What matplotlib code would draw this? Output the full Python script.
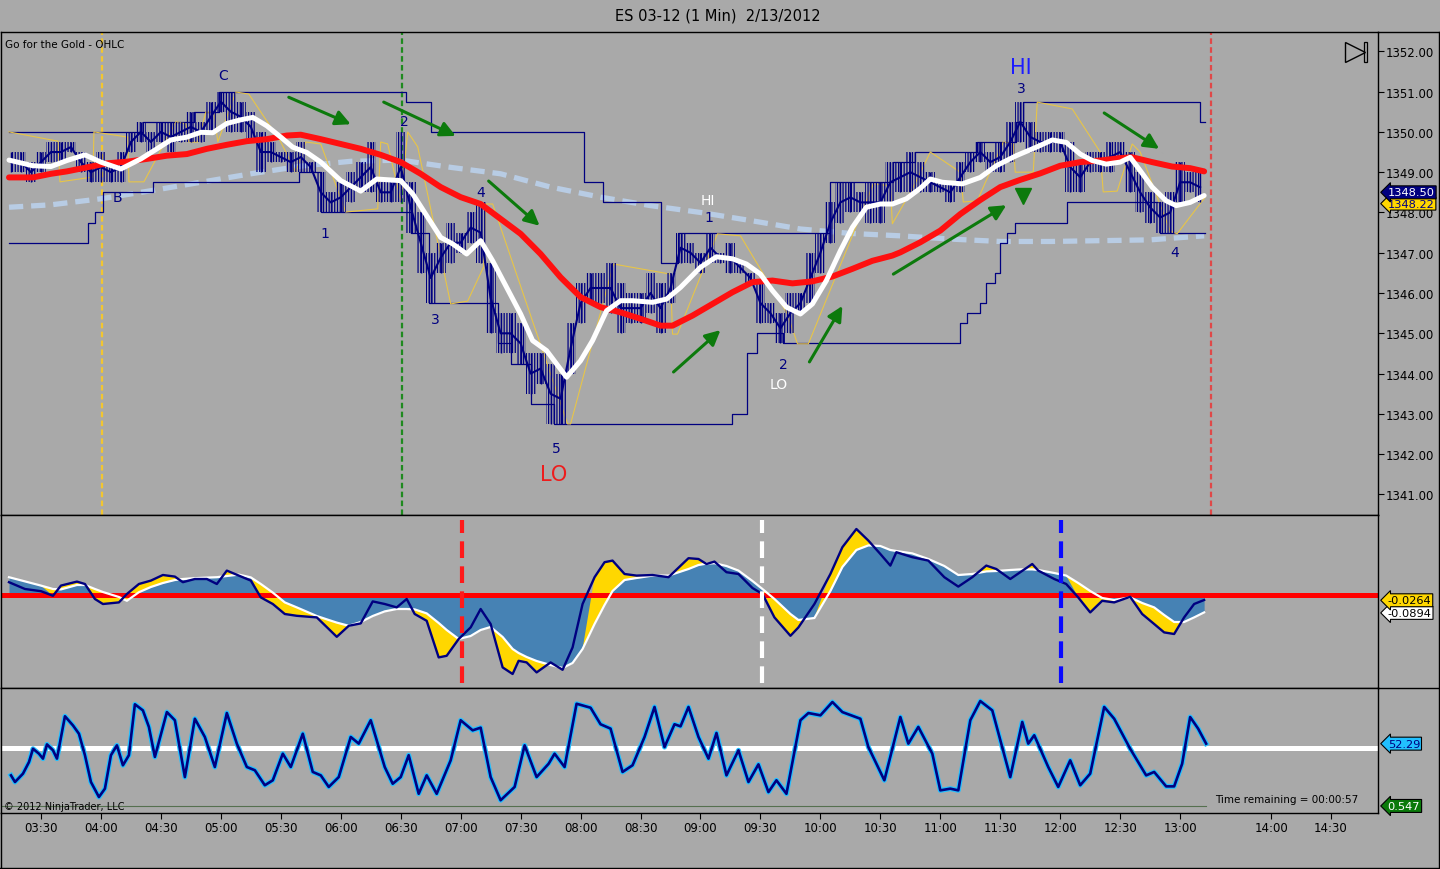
import matplotlib
matplotlib.use('Agg')
import matplotlib.pyplot as plt
from matplotlib.lines import Line2D
from matplotlib.patches import Rectangle
import numpy as np

plt.rcParams['font.family'] = ['DejaVu Sans']
plt.rcParams['hatch.linewidth'] = 0.9

BG = '#a9a9a9'
NAVY = '#000080'

# time axis: minutes after 03:30 (1 bar = 1 minute)
bar_t = list(range(-15, 581, 5))
bar_high = [1349.50, 1349.50, 1349.25, 1349.50, 1349.75, 1349.75, 1349.75, 1349.50, 1349.25, 1349.50,
            1349.25, 1349.50, 1350.00, 1350.25, 1350.00, 1350.25, 1350.25, 1350.25, 1350.50, 1350.25,
            1350.75, 1351.00, 1351.00, 1350.75, 1350.50, 1350.00, 1349.75, 1349.50, 1349.50, 1349.75,
            1349.25, 1349.00, 1348.50, 1348.75, 1349.00, 1349.25, 1349.75, 1348.75, 1348.75, 1350.00,
            1348.75, 1348.00, 1347.00, 1347.25, 1347.75, 1347.50, 1348.00, 1348.25, 1346.75, 1345.50,
            1345.50, 1345.25, 1344.50, 1344.50, 1344.25, 1344.00, 1345.25, 1346.25, 1346.50, 1346.50,
            1346.75, 1346.25, 1346.00, 1346.00, 1346.50, 1346.25, 1346.50, 1347.50, 1347.25, 1347.00,
            1347.50, 1347.00, 1347.25, 1346.75, 1346.50, 1346.25, 1345.75, 1345.50, 1346.00, 1346.00,
            1347.00, 1347.50, 1348.25, 1348.75, 1348.75, 1348.50, 1348.75, 1348.75, 1349.25, 1349.25,
            1349.50, 1349.25, 1349.00, 1348.75, 1348.75, 1349.25, 1349.50, 1349.75, 1349.50, 1349.75,
            1350.25, 1350.75, 1350.25, 1350.00, 1350.00, 1350.00, 1349.75, 1349.25, 1349.50, 1349.50,
            1349.75, 1349.75, 1349.50, 1349.00, 1348.50, 1348.25, 1348.50, 1349.25, 1349.00, 1349.00]
bar_low = [1349.00, 1349.00, 1348.75, 1349.00, 1349.25, 1349.25, 1349.50, 1349.00, 1348.75, 1348.75,
           1348.75, 1348.75, 1349.50, 1349.75, 1349.50, 1349.75, 1349.50, 1349.75, 1349.75, 1349.75,
           1350.00, 1350.50, 1350.00, 1350.00, 1349.75, 1349.00, 1349.25, 1349.25, 1349.00, 1349.00,
           1349.00, 1348.00, 1348.00, 1348.00, 1348.25, 1348.50, 1348.50, 1348.25, 1348.25, 1348.25,
           1347.50, 1346.50, 1345.75, 1346.50, 1346.75, 1347.00, 1347.25, 1346.75, 1345.00, 1344.50,
           1344.50, 1344.25, 1343.50, 1343.75, 1342.75, 1342.75, 1344.00, 1345.25, 1345.75, 1345.75,
           1345.50, 1345.00, 1345.25, 1345.25, 1345.50, 1345.00, 1345.75, 1346.75, 1346.75, 1346.50,
           1346.75, 1346.75, 1346.50, 1346.50, 1346.25, 1345.25, 1345.25, 1344.75, 1345.00, 1345.50,
           1345.75, 1346.50, 1347.25, 1347.75, 1348.00, 1348.00, 1347.75, 1347.75, 1348.25, 1348.50,
           1348.50, 1348.50, 1348.50, 1348.50, 1348.25, 1348.50, 1349.00, 1349.25, 1349.00, 1349.00,
           1349.25, 1349.75, 1349.50, 1349.50, 1349.50, 1349.50, 1348.50, 1348.50, 1349.00, 1349.00,
           1349.00, 1349.25, 1348.50, 1348.00, 1347.75, 1347.50, 1347.50, 1348.25, 1348.50, 1348.25]

fast_t = [-16, -4, 5, 13, 22, 30, 40, 50, 58, 65, 73, 80, 86, 93, 100, 106, 113, 120, 126, 133,
          140, 150, 160, 168, 180, 186, 193, 200, 206, 213, 220, 226, 233, 240, 246, 253, 263, 270, 276, 283,
          290, 296, 306, 313, 320, 330, 338, 346, 353, 360, 366, 373, 380, 386, 393, 400, 406, 413, 420, 426,
          433, 440, 445, 451, 461, 470, 478, 488, 498, 506, 513, 520, 526, 533, 540, 545, 550, 556, 563, 568,
          575, 582]
fast_ma = [1349.30, 1349.16, 1349.14, 1349.29, 1349.43, 1349.25, 1349.08, 1349.33, 1349.58, 1349.80,
           1349.87, 1349.99, 1349.98, 1350.21, 1350.30, 1350.36, 1350.15, 1349.87, 1349.62, 1349.49,
           1349.25, 1348.79, 1348.53, 1348.83, 1348.79, 1348.46, 1347.92, 1347.38, 1347.22, 1346.97,
           1347.30, 1346.80, 1346.14, 1345.48, 1344.82, 1344.57, 1343.91, 1344.32, 1344.82, 1345.56,
           1345.81, 1345.81, 1345.77, 1345.85, 1346.14, 1346.64, 1346.90, 1346.85, 1346.72, 1346.47,
           1346.06, 1345.65, 1345.48, 1345.73, 1346.31, 1347.05, 1347.63, 1348.13, 1348.21, 1348.21,
           1348.34, 1348.60, 1348.83, 1348.75, 1348.71, 1348.87, 1349.16, 1349.41, 1349.62, 1349.80,
           1349.74, 1349.45, 1349.29, 1349.20, 1349.25, 1349.37, 1349.04, 1348.63, 1348.29, 1348.17,
           1348.25, 1348.42]

mid_t = [-16, -4, 5, 13, 23, 33, 43, 53, 63, 73, 83, 93, 103, 113, 123, 130, 140, 150, 160, 170,
         180, 190, 200, 210, 220, 230, 240, 250, 260, 270, 280, 290, 300, 310, 316, 326, 336, 346, 356, 366,
         376, 386, 396, 406, 416, 426, 430, 440, 450, 460, 470, 480, 490, 500, 510, 520, 530, 540, 546, 556,
         566, 575, 582]
mid_ma = [1348.87, 1348.87, 1348.96, 1349.02, 1349.12, 1349.22, 1349.26, 1349.33, 1349.41, 1349.45,
          1349.58, 1349.68, 1349.77, 1349.82, 1349.91, 1349.93, 1349.82, 1349.70, 1349.58, 1349.43,
          1349.25, 1348.96, 1348.63, 1348.38, 1348.21, 1347.84, 1347.47, 1346.97, 1346.39, 1345.90,
          1345.65, 1345.52, 1345.36, 1345.19, 1345.19, 1345.44, 1345.73, 1346.02, 1346.27, 1346.31,
          1346.24, 1346.29, 1346.41, 1346.60, 1346.80, 1346.93, 1347.01, 1347.26, 1347.55, 1347.96,
          1348.31, 1348.63, 1348.81, 1348.97, 1349.16, 1349.25, 1349.29, 1349.35, 1349.37, 1349.25,
          1349.14, 1349.10, 1349.02]

slow_t = [-16, 5, 30, 55, 80, 105, 130, 155, 180, 205, 230, 255, 280, 305, 330, 355, 380, 405, 430,
          455, 480, 505, 530, 555, 582]
slow_ma = [1348.13, 1348.19, 1348.34, 1348.54, 1348.75, 1348.96, 1349.15, 1349.27, 1349.30, 1349.12,
           1348.96, 1348.63, 1348.38, 1348.17, 1348.00, 1347.80, 1347.59, 1347.48, 1347.42, 1347.34,
           1347.28, 1347.28, 1347.30, 1347.32, 1347.42]

upper_t = [-16, 51, 76.5, 89, 182.5, 195, 271.5, 281, 310, 318.5, 395, 426.5, 437.5, 468.5, 488, 491.5,
           580, 582.5]
upper_lvl = [1350.00, 1350.25, 1350.50, 1351.00, 1350.75, 1350.00, 1348.75, 1348.25, 1346.75, 1347.50,
             1348.75, 1349.25, 1349.50, 1349.75, 1350.25, 1350.75, 1350.25, 1350.25]
lower_t = [-16, 23.5, 27, 31, 56, 129, 140, 185, 194, 228.5, 235, 245, 256.5, 346, 353.5, 358.5, 371.5,
           460, 463.5, 470, 473, 477.5, 480, 483.5, 487.5, 513.5, 560, 582.5]
lower_lvl = [1347.25, 1347.75, 1348.00, 1348.50, 1348.75, 1349.00, 1348.00, 1347.50, 1345.75, 1344.75,
             1344.25, 1343.25, 1342.75, 1343.00, 1344.50, 1345.00, 1344.75, 1345.25, 1345.50, 1345.75,
             1346.25, 1346.50, 1347.25, 1347.50, 1347.75, 1348.25, 1347.50, 1347.50]

gold_t = [-16, 8.5, 9.5, 26, 26.5, 43.5, 44, 51.5, 67.5, 72.5, 74, 78.5, 82.5, 86.5, 88.5, 97.5, 104,
          120, 127.5, 132.5, 140, 152.5, 168.5, 170, 173.5, 180, 183.5, 188.5, 205, 213.5, 221.5, 222.5,
          226, 263.5, 265, 286.5, 315, 316, 318.5, 338.5, 350, 373.5, 378.5, 384, 416.5, 425, 426, 436.5,
          445, 460, 461.5, 468.5, 481.5, 486.5, 487.5, 496.5, 498.5, 516, 530, 531.5, 538.5, 546, 550,
          565, 568.5, 582.5]
gold_p = [1350.00, 1349.77, 1348.76, 1348.88, 1350.00, 1349.87, 1348.76, 1348.76, 1350.25, 1350.20,
          1349.75, 1349.75, 1350.49, 1350.49, 1349.75, 1350.99, 1350.94, 1349.75, 1349.00, 1349.75,
          1349.70, 1348.01, 1348.09, 1349.75, 1349.70, 1348.29, 1350.00, 1349.63, 1345.73, 1345.80,
          1346.65, 1348.21, 1348.21, 1342.75, 1342.75, 1346.72, 1346.47, 1344.98, 1344.98, 1347.47,
          1347.42, 1345.48, 1344.74, 1344.74, 1348.71, 1348.66, 1347.72, 1348.63, 1349.50, 1349.00,
          1348.26, 1348.29, 1349.75, 1349.70, 1349.00, 1349.00, 1350.74, 1350.57, 1349.50, 1348.51,
          1348.53, 1349.70, 1349.50, 1347.54, 1347.47, 1348.38]

# trend arrows drawn on the chart
arrow_from_t = [124, 171.5, 224, 316.5, 384.5, 426.5, 532]
arrow_from_p = [1350.86, 1350.74, 1348.78, 1344.04, 1344.29, 1346.47, 1350.47]
arrow_to_t = [155, 207.5, 249.5, 340, 401, 483, 559.5]
arrow_to_p = [1350.19, 1349.90, 1347.67, 1345.08, 1345.68, 1348.18, 1349.58]
lone_head_t = 491.5
lone_head_p = 1348.41

# wave labels
wave_text = ['C', 'B', '1', '2', '3', '4', '5', 'LO', 'HI', '1', '2', 'LO', 'HI', '3', '4']
wave_t = [91, 38.5, 142, 182, 197.5, 220, 258, 256.5, 333.5, 334, 371.5, 369, 490.5, 490.5, 567.5]
wave_p = [1351.41, 1348.38, 1347.49, 1350.27, 1345.36, 1348.51, 1342.16, 1341.51, 1348.30, 1347.88,
          1344.24, 1343.74, 1351.61, 1351.09, 1347.02]
wave_kind = ['n', 'n', 'n', 'n', 'n', 'n', 'n', 'lo', 'hiw', 'n', 'n', 'low', 'hi', 'n', 'n']

session_t = [30.5, 180.5, 585.5]
price_ticks = [1341, 1342, 1343, 1344, 1345, 1346, 1347, 1348, 1349, 1350, 1351, 1352]
last_price = 1348.50
gold_last = 1348.22

# MACD-style panel
osc_t = [-16, -8, 0, 6, 10, 18, 22, 27, 31, 39, 43, 49, 55, 61, 67, 71, 77, 83, 88, 93, 99, 105, 110,
         116, 122, 128, 138, 144, 148, 154, 160, 166, 172, 178, 183, 187, 193, 199, 203, 209, 215, 220,
         225, 231, 236, 239, 243, 248, 255, 261, 266, 271, 277, 282, 286, 292, 298, 306, 314, 324, 329,
         333, 337, 343, 349, 356, 361, 367, 375, 379, 387, 395, 401, 408, 414, 420, 425, 428, 436, 444,
         452, 459, 466, 473, 478, 485, 490, 496, 499, 507, 513, 519, 525, 531, 537, 545, 551, 557, 562,
         567, 572, 577, 582]
macd = [0.064, 0.030, 0.019, -0.004, 0.047, 0.067, 0.055, -0.020, -0.045, -0.037,
        0.005, 0.055, 0.072, 0.100, 0.092, 0.064, 0.080, 0.080, 0.055, 0.122,
        0.097, 0.072, -0.012, -0.045, -0.095, -0.104, -0.112, -0.170, -0.209, -0.154,
        -0.142, -0.032, -0.045, -0.062, -0.020, -0.095, -0.129, -0.312, -0.304, -0.220,
        -0.162, -0.070, -0.145, -0.362, -0.395, -0.329, -0.337, -0.387, -0.337, -0.374,
        -0.262, -0.045, 0.089, 0.164, 0.172, 0.105, 0.097, 0.100, 0.089, 0.184,
        0.180, 0.155, 0.167, 0.114, 0.105, 0.035, 0.005, -0.112, -0.204, -0.162,
        -0.045, 0.105, 0.239, 0.330, 0.272, 0.205, 0.147, 0.214, 0.189, 0.172,
        0.089, 0.042, 0.089, 0.147, 0.130, 0.080, 0.114, 0.155, 0.122, 0.080,
        0.055, -0.012, -0.087, -0.029, -0.037, -0.009, -0.095, -0.145, -0.187, -0.195,
        -0.112, -0.045, -0.025]
signal = [0.089, 0.068, 0.047, 0.030, 0.028, 0.050, 0.050, 0.030, 0.015, -0.010,
          -0.029, 0.014, 0.040, 0.060, 0.075, 0.080, 0.084, 0.087, 0.089, 0.095,
          0.102, 0.088, 0.055, 0.012, -0.037, -0.062, -0.105, -0.125, -0.138, -0.154,
          -0.135, -0.105, -0.082, -0.070, -0.070, -0.072, -0.092, -0.140, -0.175, -0.220,
          -0.205, -0.175, -0.160, -0.210, -0.270, -0.290, -0.310, -0.330, -0.350, -0.365,
          -0.340, -0.270, -0.145, -0.050, 0.020, 0.075, 0.085, 0.097, 0.097, 0.130,
          0.150, 0.157, 0.159, 0.145, 0.122, 0.070, 0.030, -0.020, -0.095, -0.125,
          -0.115, 0.020, 0.140, 0.225, 0.248, 0.245, 0.225, 0.220, 0.208, 0.180,
          0.145, 0.100, 0.105, 0.118, 0.120, 0.125, 0.128, 0.128, 0.125, 0.110,
          0.097, 0.060, 0.020, -0.015, -0.025, -0.012, -0.040, -0.062, -0.100, -0.135,
          -0.135, -0.112, -0.087]
macd_marks_t = [210.5, 361, 510.5]
macd_last = -0.0264
signal_last = -0.0894

# oscillator panel
rsi_t = [-15, -13, -9, -6, -4, -1, 1, 3, 6, 8, 12, 16, 19, 22, 25, 29, 32, 35, 38, 41, 44, 47, 51, 54,
         57, 63, 67, 72, 77, 82, 87, 93, 98, 103, 107, 112, 116, 121, 125, 131, 136, 140, 144, 149, 155,
         159, 165, 172, 176, 180, 184, 189, 193, 198, 205, 210, 216, 220, 225, 230, 237, 242, 248, 254,
         257, 262, 268, 275, 280, 285, 291, 296, 302, 307, 312, 317, 320, 324, 329, 334, 338, 343, 349,
         354, 359, 364, 368, 373, 380, 384, 390, 396, 401, 410, 414, 422, 430, 434, 439, 446, 450, 455,
         459, 465, 470, 476, 485, 491, 494, 497, 504, 509, 515, 520, 525, 532, 537, 545, 553, 557, 563,
         567, 571, 575, 579, 583]
rsi = [35.6, 32.1, 36.5, 42.6, 49.6, 47.0, 44.4, 51.9, 48.8, 44.4, 66.7, 61.9, 57.5, 46.2, 32.1, 24.2,
       28.6, 46.2, 51.4, 40.9, 46.2, 73.0, 69.8, 61.1, 45.3, 68.9, 64.6, 34.7, 65.4, 55.8, 40.0, 68.4,
       52.3, 40.0, 38.3, 30.4, 33.0, 47.0, 40.0, 57.5, 37.4, 35.6, 29.5, 34.7, 55.8, 52.3, 64.6, 40.0,
       31.2, 34.7, 46.2, 25.9, 35.6, 25.9, 43.5, 64.6, 59.3, 60.7, 34.7, 22.5, 29.5, 51.4, 34.7, 41.7,
       47.0, 40.0, 73.3, 71.2, 62.5, 60.2, 37.4, 40.9, 55.8, 71.6, 50.5, 62.5, 61.4, 71.6, 55.8, 44.4,
       57.9, 35.6, 48.8, 32.1, 41.4, 26.8, 33.0, 25.9, 64.6, 68.4, 67.2, 74.2, 68.9, 65.4, 50.5, 33.0,
       66.3, 52.3, 61.1, 47.0, 27.7, 28.6, 27.7, 64.6, 74.7, 69.8, 34.7, 63.7, 52.3, 56.7, 40.0, 29.5,
       43.5, 30.4, 36.5, 71.6, 65.4, 49.6, 35.6, 37.4, 29.8, 29.8, 41.7, 66.3, 60.2, 52.3]
rsi_mid = 50
rsi_last = 52.29
floor_level = 19.5
floor_last = 0.547

tick_pos = [0, 30, 60, 90, 120, 150, 180, 210, 240, 270, 300, 330, 360, 390, 420, 450, 480, 510,
            540, 570, 615.5, 645.5]
tick_lbl = ['03:30', '04:00', '04:30', '05:00', '05:30', '06:00', '06:30', '07:00', '07:30', '08:00',
            '08:30', '09:00', '09:30', '10:00', '10:30', '11:00', '11:30', '12:00', '12:30', '13:00',
            '14:00', '14:30']

W, H = 1440, 870
fig = plt.figure(figsize=(W / 100, H / 100), dpi=100, facecolor=BG)


def panel(top_px, bottom_px):
    return fig.add_axes([1 / W, 1 - bottom_px / H, 1377 / W, (bottom_px - top_px) / H], facecolor=BG)


ax1 = panel(33, 516)
ax2 = panel(516, 689)
ax3 = panel(689, 814)
for ax in (ax1, ax2, ax3):
    ax.set_xlim(-20, 669)
    for s in ax.spines.values():
        s.set_color('black')
        s.set_linewidth(1)
    ax.tick_params(axis='x', bottom=False, labelbottom=False)
    ax.tick_params(axis='y', left=False, labelleft=False, right=False, labelright=False)


def flag(ax, y, text, fc, tc):
    ax.text(1.007, y, text, transform=ax.get_yaxis_transform(), fontsize=8.2, color=tc,
            va='center', ha='left', clip_on=False, zorder=10,
            bbox=dict(boxstyle='larrow,pad=0.13', fc=fc, ec='black', lw=0.8))


# ---- price panel
ax1.set_ylim(1340.49, 1352.48)
ax1.set_yticks(price_ticks)
ax1.set_yticklabels([f'{v:.2f}' for v in price_ticks])
ax1.tick_params(axis='y', right=True, labelright=True, length=4, width=0.8, labelsize=8.5, pad=1.5)

for t, c in zip(session_t, ['#f2c630', '#1f8a1f', '#e04848']):
    ax1.axvline(t, color=c, lw=1.6, dashes=(2.5, 1.5), zorder=1)

ax1.plot(slow_t, slow_ma, color='#b8cce4', lw=3.8, dashes=(2.7, 1.5), zorder=2)
ax1.step(upper_t, upper_lvl, where='post', color=NAVY, lw=0.9, zorder=2)
ax1.step(lower_t, lower_lvl, where='post', color=NAVY, lw=0.9, zorder=2)
ax1.plot(gold_t, gold_p, color='#e8c547', lw=0.8, zorder=3)

ax1.vlines(bar_t, bar_low, bar_high, color=NAVY, lw=1.0, zorder=3)
ax1.fill_between(bar_t, bar_low, bar_high, step='mid', facecolor='none', edgecolor=NAVY,
                 hatch='||||||', lw=0, zorder=3)
mid_px = (np.array(bar_high) + np.array(bar_low)) / 2
ax1.plot(bar_t, mid_px, color=NAVY, lw=1.5, zorder=3)

ax1.plot(mid_t, mid_ma, color='#ff1010', lw=4.3, solid_capstyle='round', zorder=4)
ax1.plot(fast_t, fast_ma, color='white', lw=3.6, solid_capstyle='round', zorder=5)

for t0, p0, t1, p1 in zip(arrow_from_t, arrow_from_p, arrow_to_t, arrow_to_p):
    ax1.annotate('', xy=(t1, p1), xytext=(t0, p0), zorder=6,
                 arrowprops=dict(arrowstyle='-|>,head_length=0.9,head_width=0.45',
                                 color='#0c7a0c', lw=2.2, shrinkA=0, shrinkB=0))
ax1.plot([lone_head_t], [lone_head_p], marker='v', ms=11, color='#0c7a0c', zorder=6)

wave_style = {'n': (NAVY, 10), 'lo': ('#ee1c1c', 15), 'hiw': ('white', 10),
              'low': ('white', 10), 'hi': ('#1c1cff', 15)}
for s, t, p, k in zip(wave_text, wave_t, wave_p, wave_kind):
    c, fs = wave_style[k]
    ax1.text(t, p, s, color=c, fontsize=fs, ha='center', va='center', zorder=7)

ax1.text(0.003, 0.975, 'Go for the Gold - OHLC', transform=ax1.transAxes, fontsize=7.5,
         va='center', ha='left')
ax1.plot([0.9833], [0.9586], marker='>', ms=14, mfc='none', mec='black', mew=1.0,
         transform=ax1.transAxes, clip_on=False)
ax1.add_patch(Rectangle((0.9898, 0.9379), 0.0022, 0.0414, transform=ax1.transAxes,
                        fill=False, ec='black', lw=0.9))

flag(ax1, gold_last, f'{gold_last:.2f}', '#ffd700', NAVY)
flag(ax1, last_price, f'{last_price:.2f}', NAVY, 'white')

# ---- MACD panel
ax2.set_ylim(-0.465, 0.40)
m = np.array(macd)
s = np.array(signal)
ax2.fill_between(osc_t, 0, s, color='#4682b4', lw=0, zorder=1)
beyond = ((m > s) & (m > 0)) | ((m < s) & (m < 0))
ax2.fill_between(osc_t, s, m, where=beyond, interpolate=True, color='#ffd700', lw=0, zorder=1)
ax2.axhline(0, color='#ff0000', lw=3.6, zorder=2)
ax2.plot(osc_t, s, color='white', lw=1.6, zorder=3)
ax2.plot(osc_t, m, color=NAVY, lw=1.7, zorder=4)
for t, c in zip(macd_marks_t, ['#ff1a1a', 'white', '#0a0aff']):
    ax2.axvline(t, ymin=0.03, ymax=0.97, color=c, lw=3.0, dashes=(4, 2), zorder=5)
flag(ax2, signal_last, f'{signal_last:.4f}', 'white', 'black')
flag(ax2, macd_last, f'{macd_last:.4f}', '#ffd700', 'black')

# ---- oscillator panel
ax3.set_ylim(15.79, 81.58)
ax3.axhline(rsi_mid, color='white', lw=3.6, zorder=1)
ax3.plot([-20, rsi_t[-1]], [floor_level, floor_level], color='#55704f', lw=0.8, zorder=1)
ax3.plot(rsi_t, rsi, color='#22c0ff', lw=3.6, zorder=2)
ax3.plot(rsi_t, rsi, color=NAVY, lw=1.9, zorder=3)
ax3.text(0.002, 0.056, '\u00a9 2012 NinjaTrader, LLC', transform=ax3.transAxes, fontsize=7,
         va='center', ha='left')
ax3.text(0.8816, 0.112, 'Time remaining = 00:00:57', transform=ax3.transAxes, fontsize=7.5,
         va='center', ha='left')
flag(ax3, rsi_last, f'{rsi_last:.2f}', '#22c0ff', NAVY)
flag(ax3, floor_level, f'{floor_last:.3f}', '#0a7a0a', 'white')

ax3.set_xticks(tick_pos)
ax3.set_xticklabels(tick_lbl)
ax3.tick_params(axis='x', bottom=True, labelbottom=True, length=4, width=0.8, labelsize=8.5, pad=2)

# frame lines outside the panels
fy = lambda px: 1 - px / H
fx = lambda px: px / W
for xs, ys in [([fx(1378), 1], [fy(33), fy(33)]), ([fx(1378), 1], [fy(689), fy(689)]),
               ([fx(1439), fx(1439)], [fy(33), fy(869)]), ([0, 1], [fy(869), fy(869)]),
               ([fx(1), fx(1)], [fy(814), fy(869)])]:
    fig.add_artist(Line2D(xs, ys, color='black', lw=1, transform=fig.transFigure))

fig.text(0.4986, fy(16), 'ES 03-12 (1 Min)  2/13/2012', ha='center', va='center', fontsize=10.5)

fig.savefig('out.png', dpi=100, facecolor=BG)
